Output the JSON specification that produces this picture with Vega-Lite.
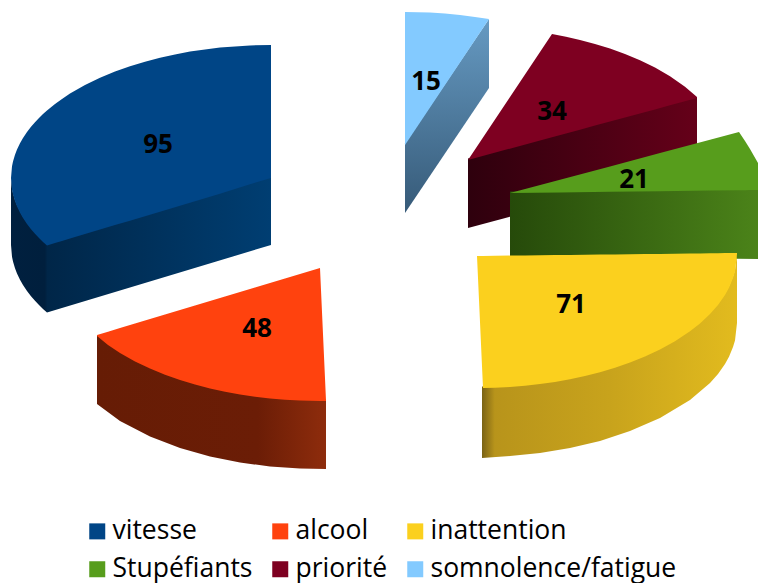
{
"$schema":"https://vega.github.io/schema/vega-lite/v6.json",
"width":758,"height":583,"padding":0,"autosize":{"type":"none"},
"background":"white",
"config":{"view":{"stroke":null}},
"datasets":{
"outline":[
{"slice":"vitesse","face":"wall","px":11,"py":178,"py2":245},{"slice":"vitesse","face":"wall","px":12,"py":188.5,"py2":256.7},{"slice":"vitesse","face":"wall","px":13,"py":193,"py2":261.5},{"slice":"vitesse","face":"wall","px":15,"py":200,"py2":268.3},{"slice":"vitesse","face":"wall","px":17,"py":205,"py2":273.4},{"slice":"vitesse","face":"wall","px":20,"py":211.2,"py2":279.7},{"slice":"vitesse","face":"wall","px":23,"py":216.4,"py2":284.9},{"slice":"vitesse","face":"wall","px":27,"py":222.4,"py2":290.9},{"slice":"vitesse","face":"wall","px":31,"py":227.7,"py2":296.2},{"slice":"vitesse","face":"wall","px":35,"py":232.3,"py2":300.8},{"slice":"vitesse","face":"wall","px":39,"py":236.5,"py2":305},{"slice":"vitesse","face":"wall","px":43,"py":240.4,"py2":308.9},{"slice":"vitesse","face":"wall","px":47,"py":244,"py2":312.5},{"slice":"vitesse","face":"wall","px":271,"py":176.5,"py2":245},
{"slice":"alcool","face":"wall","px":97,"py":335,"py2":404},{"slice":"alcool","face":"wall","px":120,"py":351.5,"py2":421},{"slice":"alcool","face":"wall","px":150,"py":367.1,"py2":436.6},{"slice":"alcool","face":"wall","px":180,"py":378.6,"py2":448},{"slice":"alcool","face":"wall","px":210,"py":387,"py2":456.5},{"slice":"alcool","face":"wall","px":240,"py":393,"py2":462.5},{"slice":"alcool","face":"wall","px":270,"py":397,"py2":466.5},{"slice":"alcool","face":"wall","px":300,"py":399.1,"py2":468.6},{"slice":"alcool","face":"wall","px":326,"py":399.5,"py2":469},
{"slice":"somnolence/fatigue","face":"wall","px":405,"py":143.5,"py2":213},{"slice":"somnolence/fatigue","face":"wall","px":489,"py":19,"py2":88},
{"slice":"priorité","face":"wall","px":468,"py":158.5,"py2":228},{"slice":"priorité","face":"wall","px":697,"py":97,"py2":166},
{"slice":"Stupéfiants","face":"wall","px":510,"py":191.5,"py2":256},{"slice":"Stupéfiants","face":"wall","px":758,"py":188.5,"py2":259},
{"slice":"inattention","face":"wall","px":482,"py":386.5,"py2":458},{"slice":"inattention","face":"wall","px":510,"py":385.5,"py2":456},{"slice":"inattention","face":"wall","px":540,"py":382.5,"py2":453},{"slice":"inattention","face":"wall","px":570,"py":377.7,"py2":448},{"slice":"inattention","face":"wall","px":600,"py":370.7,"py2":441},{"slice":"inattention","face":"wall","px":630,"py":361.1,"py2":431},{"slice":"inattention","face":"wall","px":660,"py":347.9,"py2":418},{"slice":"inattention","face":"wall","px":690,"py":329.8,"py2":400},{"slice":"inattention","face":"wall","px":710,"py":312.5,"py2":383},{"slice":"inattention","face":"wall","px":718,"py":303.4,"py2":373.9},{"slice":"inattention","face":"wall","px":725,"py":293.5,"py2":364},{"slice":"inattention","face":"wall","px":729,"py":286.3,"py2":356.8},{"slice":"inattention","face":"wall","px":733,"py":276.5,"py2":347},{"slice":"inattention","face":"wall","px":735,"py":270,"py2":340.5},{"slice":"inattention","face":"wall","px":737,"py":254,"py2":323},
{"slice":"vitesse","face":"top","px":11,"py":178,"py2":178},{"slice":"vitesse","face":"top","px":12,"py":166.3,"py2":189.7},{"slice":"vitesse","face":"top","px":13,"py":161.5,"py2":194.5},{"slice":"vitesse","face":"top","px":15,"py":154.7,"py2":201.3},{"slice":"vitesse","face":"top","px":17,"py":149.6,"py2":206.4},{"slice":"vitesse","face":"top","px":20,"py":143.3,"py2":212.7},{"slice":"vitesse","face":"top","px":23,"py":138.1,"py2":217.9},{"slice":"vitesse","face":"top","px":27,"py":132.1,"py2":223.9},{"slice":"vitesse","face":"top","px":31,"py":126.8,"py2":229.2},{"slice":"vitesse","face":"top","px":35,"py":122.2,"py2":233.8},{"slice":"vitesse","face":"top","px":39,"py":118,"py2":238},{"slice":"vitesse","face":"top","px":43,"py":114.1,"py2":241.9},{"slice":"vitesse","face":"top","px":47,"py":110.5,"py2":245.5},{"slice":"vitesse","face":"top","px":55,"py":104,"py2":243.1},{"slice":"vitesse","face":"top","px":62,"py":98.9,"py2":241},{"slice":"vitesse","face":"top","px":70,"py":93.6,"py2":238.6},{"slice":"vitesse","face":"top","px":85,"py":85.1,"py2":234.1},{"slice":"vitesse","face":"top","px":100,"py":77.8,"py2":229.6},{"slice":"vitesse","face":"top","px":115,"py":71.6,"py2":225.1},{"slice":"vitesse","face":"top","px":130,"py":66.3,"py2":220.7},{"slice":"vitesse","face":"top","px":145,"py":61.7,"py2":216.2},{"slice":"vitesse","face":"top","px":160,"py":57.7,"py2":211.7},{"slice":"vitesse","face":"top","px":175,"py":54.4,"py2":207.2},{"slice":"vitesse","face":"top","px":190,"py":51.6,"py2":202.7},{"slice":"vitesse","face":"top","px":220,"py":47.6,"py2":193.7},{"slice":"vitesse","face":"top","px":250,"py":45.4,"py2":184.3},{"slice":"vitesse","face":"top","px":271,"py":45,"py2":178},
{"slice":"alcool","face":"top","px":97,"py":335,"py2":336},{"slice":"alcool","face":"top","px":108,"py":331.7,"py2":345},{"slice":"alcool","face":"top","px":120,"py":328.1,"py2":353},{"slice":"alcool","face":"top","px":135,"py":323.6,"py2":361.5},{"slice":"alcool","face":"top","px":150,"py":319,"py2":368.6},{"slice":"alcool","face":"top","px":165,"py":314.6,"py2":374.8},{"slice":"alcool","face":"top","px":180,"py":310,"py2":380.1},{"slice":"alcool","face":"top","px":195,"py":305.6,"py2":384.6},{"slice":"alcool","face":"top","px":210,"py":301,"py2":388.5},{"slice":"alcool","face":"top","px":225,"py":296.5,"py2":391.8},{"slice":"alcool","face":"top","px":240,"py":292,"py2":394.5},{"slice":"alcool","face":"top","px":255,"py":287.5,"py2":396.8},{"slice":"alcool","face":"top","px":270,"py":283,"py2":398.5},{"slice":"alcool","face":"top","px":285,"py":278.5,"py2":399.8},{"slice":"alcool","face":"top","px":300,"py":274,"py2":400.6},{"slice":"alcool","face":"top","px":320,"py":268,"py2":401},{"slice":"alcool","face":"top","px":326,"py":400.5,"py2":401},
{"slice":"inattention","face":"top","px":477,"py":256,"py2":256},{"slice":"inattention","face":"top","px":483,"py":255.9,"py2":388},{"slice":"inattention","face":"top","px":495,"py":255.8,"py2":387.7},{"slice":"inattention","face":"top","px":510,"py":255.6,"py2":387},{"slice":"inattention","face":"top","px":525,"py":255.5,"py2":385.7},{"slice":"inattention","face":"top","px":540,"py":255.3,"py2":384},{"slice":"inattention","face":"top","px":555,"py":255.1,"py2":381.9},{"slice":"inattention","face":"top","px":570,"py":254.9,"py2":379.2},{"slice":"inattention","face":"top","px":585,"py":254.8,"py2":376},{"slice":"inattention","face":"top","px":600,"py":254.6,"py2":372.2},{"slice":"inattention","face":"top","px":615,"py":254.4,"py2":367.7},{"slice":"inattention","face":"top","px":630,"py":254.2,"py2":362.6},{"slice":"inattention","face":"top","px":645,"py":254,"py2":356.5},{"slice":"inattention","face":"top","px":660,"py":253.9,"py2":349.4},{"slice":"inattention","face":"top","px":675,"py":253.7,"py2":341.2},{"slice":"inattention","face":"top","px":690,"py":253.5,"py2":331.3},{"slice":"inattention","face":"top","px":700,"py":253.4,"py2":323.4},{"slice":"inattention","face":"top","px":710,"py":253.3,"py2":314},{"slice":"inattention","face":"top","px":718,"py":253.2,"py2":304.9},{"slice":"inattention","face":"top","px":725,"py":253.1,"py2":295},{"slice":"inattention","face":"top","px":729,"py":253.1,"py2":287.8},{"slice":"inattention","face":"top","px":733,"py":253,"py2":278},{"slice":"inattention","face":"top","px":735,"py":253,"py2":271.5},{"slice":"inattention","face":"top","px":737,"py":253,"py2":254},
{"slice":"Stupéfiants","face":"top","px":510,"py":193,"py2":193},{"slice":"Stupéfiants","face":"top","px":560,"py":179.7,"py2":192.4},{"slice":"Stupéfiants","face":"top","px":610,"py":166.4,"py2":191.8},{"slice":"Stupéfiants","face":"top","px":660,"py":153,"py2":191.2},{"slice":"Stupéfiants","face":"top","px":710,"py":139.7,"py2":190.6},{"slice":"Stupéfiants","face":"top","px":739,"py":132,"py2":190.3},{"slice":"Stupéfiants","face":"top","px":745,"py":141,"py2":190.2},{"slice":"Stupéfiants","face":"top","px":750,"py":149,"py2":190.1},{"slice":"Stupéfiants","face":"top","px":758,"py":163,"py2":190},
{"slice":"priorité","face":"top","px":468,"py":160,"py2":160},{"slice":"priorité","face":"top","px":500,"py":112,"py2":151.3},{"slice":"priorité","face":"top","px":530,"py":67,"py2":143.2},{"slice":"priorité","face":"top","px":552,"py":34,"py2":137.3},{"slice":"priorité","face":"top","px":566,"py":36.8,"py2":133.5},{"slice":"priorité","face":"top","px":580,"py":40,"py2":129.7},{"slice":"priorité","face":"top","px":595,"py":43.9,"py2":125.6},{"slice":"priorité","face":"top","px":610,"py":48.5,"py2":121.6},{"slice":"priorité","face":"top","px":625,"py":54,"py2":117.5},{"slice":"priorité","face":"top","px":640,"py":60.3,"py2":113.4},{"slice":"priorité","face":"top","px":655,"py":67.6,"py2":109.4},{"slice":"priorité","face":"top","px":670,"py":76.2,"py2":105.3},{"slice":"priorité","face":"top","px":685,"py":86.7,"py2":101.3},{"slice":"priorité","face":"top","px":697,"py":97,"py2":98},
{"slice":"somnolence/fatigue","face":"top","px":405,"py":12,"py2":145},{"slice":"somnolence/fatigue","face":"top","px":430,"py":12.6,"py2":107.5},{"slice":"somnolence/fatigue","face":"top","px":445,"py":13.6,"py2":85},{"slice":"somnolence/fatigue","face":"top","px":460,"py":15,"py2":62.5},{"slice":"somnolence/fatigue","face":"top","px":475,"py":16.9,"py2":40},{"slice":"somnolence/fatigue","face":"top","px":489,"py":19,"py2":19}
],
"slices":[
{"slice":"vitesse","value":95,"px":158,"py":143},{"slice":"alcool","value":48,"px":257,"py":327},{"slice":"inattention","value":71,"px":571,"py":303},{"slice":"Stupéfiants","value":21,"px":634,"py":178},{"slice":"priorité","value":34,"px":552,"py":110},{"slice":"somnolence/fatigue","value":15,"px":426,"py":80}
]},
"encoding":{
"x":{"field":"px","type":"quantitative","axis":null,"scale":{"domain":[0,758],"nice":false,"zero":false}},
"y":{"field":"py","type":"quantitative","axis":null,"scale":{"domain":[583,0],"nice":false,"zero":false}}
},
"layer":[
{"data":{"name":"outline"},"transform":[{"filter":"datum.face==='wall' && datum.slice==='vitesse'"}],"mark":{"type":"area","orient":"vertical","fill":{"gradient":"linear","x1":0,"y1":0,"x2":1,"y2":0,"stops":[{"offset":0,"color":"#00203f"},{"offset":0.13,"color":"#001f3d"},{"offset":0.14,"color":"#002648"},{"offset":1,"color":"#003e72"}]}},"encoding":{"y2":{"field":"py2"}}},
{"data":{"name":"outline"},"transform":[{"filter":"datum.face==='wall' && datum.slice==='alcool'"}],"mark":{"type":"area","orient":"vertical","fill":{"gradient":"linear","x1":0,"y1":0,"x2":1,"y2":0,"stops":[{"offset":0,"color":"#661c05"},{"offset":0.7,"color":"#6b1d06"},{"offset":1,"color":"#8e2c0c"}]}},"encoding":{"y2":{"field":"py2"}}},
{"data":{"name":"outline"},"transform":[{"filter":"datum.face==='wall' && datum.slice==='somnolence/fatigue'"}],"mark":{"type":"area","orient":"vertical","fill":{"gradient":"linear","x1":0,"y1":0,"x2":0,"y2":1,"stops":[{"offset":0,"color":"#669ac2"},{"offset":1,"color":"#365a78"}]}},"encoding":{"y2":{"field":"py2"}}},
{"data":{"name":"outline"},"transform":[{"filter":"datum.face==='wall' && datum.slice==='priorité'"}],"mark":{"type":"area","orient":"vertical","fill":{"gradient":"linear","x1":0,"y1":0,"x2":1,"y2":0,"stops":[{"offset":0,"color":"#2e000d"},{"offset":1,"color":"#650019"}]}},"encoding":{"y2":{"field":"py2"}}},
{"data":{"name":"outline"},"transform":[{"filter":"datum.face==='wall' && datum.slice==='Stupéfiants'"}],"mark":{"type":"area","orient":"vertical","fill":{"gradient":"linear","x1":0,"y1":0,"x2":1,"y2":0,"stops":[{"offset":0,"color":"#264a0a"},{"offset":1,"color":"#4b8319"}]}},"encoding":{"y2":{"field":"py2"}}},
{"data":{"name":"outline"},"transform":[{"filter":"datum.face==='wall' && datum.slice==='inattention'"}],"mark":{"type":"area","orient":"vertical","fill":{"gradient":"linear","x1":0,"y1":0,"x2":1,"y2":0,"stops":[{"offset":0,"color":"#7a6316"},{"offset":0.05,"color":"#b8941b"},{"offset":0.5,"color":"#c8a31c"},{"offset":1,"color":"#e2bb1e"}]}},"encoding":{"y2":{"field":"py2"}}},
{"data":{"name":"outline"},"transform":[{"filter":"datum.face==='top'"}],"mark":{"type":"area","orient":"vertical","opacity":1},"encoding":{"y2":{"field":"py2"},
"color":{"field":"slice","type":"nominal","scale":{"domain":["vitesse","alcool","inattention","Stupéfiants","priorité","somnolence/fatigue"],"range":["#004586","#ff420e","#fbd01e","#579d1c","#7e0021","#83caff"]},
"legend":{"title":null,"orient":"none","direction":"horizontal","legendX":84,"legendY":518,"columns":3,"symbolType":"square","symbolSize":256,"symbolStrokeWidth":0,"labelFont":"Open Sans","labelFontSize":26.5,"labelColor":"#000000","labelOffset":2,"columnPadding":14,"rowPadding":11,"labelLimit":400}}}},
{"data":{"name":"slices"},"mark":{"type":"text","font":"Open Sans","fontWeight":"bold","fontSize":26,"color":"#000000","align":"center","baseline":"middle","dy":2},"encoding":{"text":{"field":"value","type":"quantitative"}}}
]
}
